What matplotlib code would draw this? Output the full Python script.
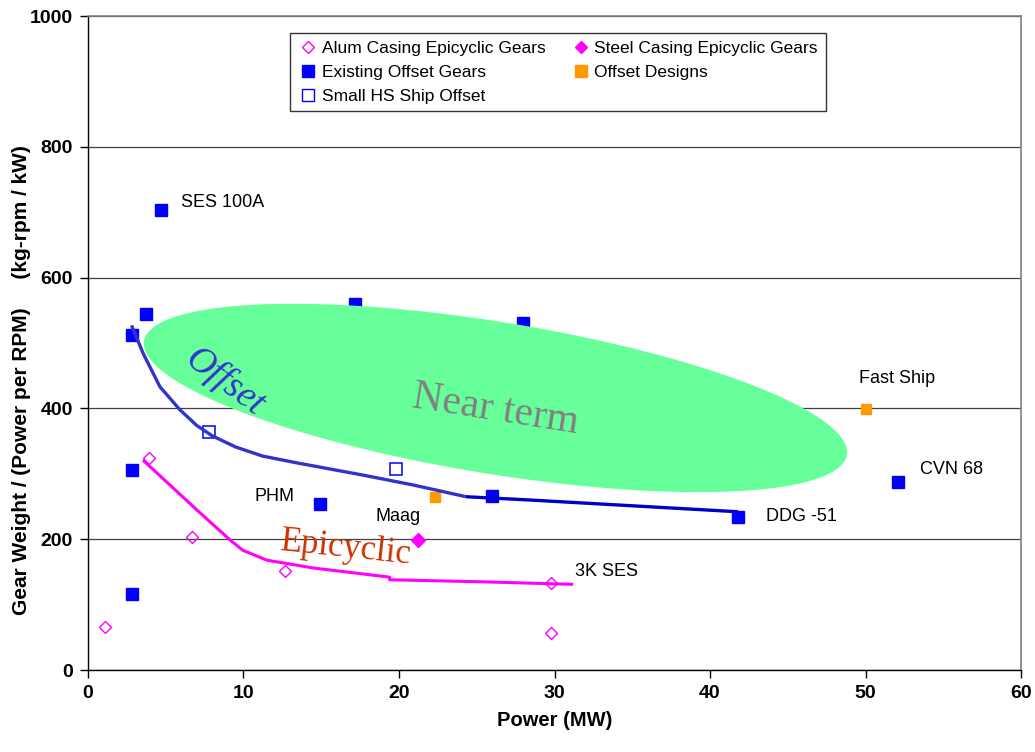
import numpy as np
import matplotlib
matplotlib.use("Agg")
import matplotlib.pyplot as plt
from matplotlib.lines import Line2D

plt.rcParams['font.family'] = ['Liberation Sans', 'DejaVu Sans']

# Existing Offset Gears (filled blue squares)
exist_x = [4.7, 3.7, 2.8, 17.2, 28.0, 2.8, 14.9, 26.0, 41.8, 52.1, 2.8]
exist_y = [704, 544, 512, 559, 530, 306, 254, 266, 234, 287, 116]

# Small HS Ship Offset (open blue squares)
small_x = [7.8, 16.7, 19.8]
small_y = [364, 358, 307]

# Offset Designs (orange squares)
design_x = [22.3, 50.0]
design_y = [265, 399]

# Alum Casing Epicyclic Gears (open diamonds)
alum_x = [3.9, 6.7, 12.7, 29.8, 29.8, 1.1]
alum_y = [324, 203, 151, 133, 57, 66]

# Steel Casing Epicyclic Gears
steel_x = [21.2]
steel_y = [199]

# trend curves drawn by hand on the original
offset_x = [2.8, 3.55, 4.63, 5.91, 6.99, 8.0, 9.5, 11.25, 13.6, 17.7, 20.9, 22.8, 24.3]
offset_y = [527, 484, 433, 398, 374, 358, 341, 327, 316, 298, 283, 273, 265]
offset2_x = [24.3, 28.4, 41.8]
offset2_y = [265, 260, 242]
epi_x = [3.53, 4.95, 6.99, 9.13, 9.96, 11.5, 14.5, 19.4, 19.4, 25.2, 31.2]
epi_y = [321, 290, 245, 199, 183, 168, 156, 142, 138, 135, 131]

# point labels
lbl_text = ["SES 100A", "PHM", "Maag", "Fast Ship", "CVN 68", "DDG -51", "3K SES"]
lbl_x = [6.0, 10.7, 18.5, 49.6, 53.5, 43.6, 31.3]
lbl_y = [715, 265, 235, 445, 307, 234, 150]

fig = plt.figure(figsize=(10.35, 7.52), dpi=100)
ax = fig.add_axes([0.085, 0.109, 0.9015, 0.8697])

ax.set_xlim(0, 60)
ax.set_ylim(0, 1000)
ax.set_xticks(range(0, 61, 10))
ax.set_yticks(range(0, 1001, 200))
ax.yaxis.grid(True, color='#404040', lw=0.9, zorder=0)
ax.set_axisbelow(True)
for s in ['top', 'right']:
    ax.spines[s].set_color('#808080')
    ax.spines[s].set_linewidth(1.2)
for s in ['left', 'bottom']:
    ax.spines[s].set_color('black')
    ax.spines[s].set_linewidth(1.0)
ax.tick_params(direction='out', length=6, width=1, labelsize=14, pad=5)
for t in ax.get_xticklabels() + ax.get_yticklabels():
    t.set_fontweight('bold')

ax.plot(exist_x, exist_y, 's', color='#0000FF', ms=8.5, mec='#0000FF', ls='none', zorder=2)
ax.plot(small_x, small_y, 's', mfc='white', mec='#0000FF', mew=1.1, ms=8, ls='none', zorder=2)
ax.plot(design_x, design_y, 's', color='#FF9900', ms=7, ls='none', zorder=2)
ax.plot(alum_x, alum_y, 'D', mfc='none', mec='#FF00FF', mew=1.0, ms=6.5, ls='none', zorder=2)
ax.plot(steel_x, steel_y, 'D', color='#FF00FF', ms=7, ls='none', zorder=2)

# "Near term" ellipse, built in pixel space then mapped to data units
sx = 0.9015 * 1035 / 60.0
sy = 0.8697 * 752 / 1000.0
t = np.linspace(0, 2 * np.pi, 300)
a, b, th = 356.0, 76.0, np.radians(-9.2)
dx = a * np.cos(t) * np.cos(th) - b * np.sin(t) * np.sin(th)
dy = a * np.cos(t) * np.sin(th) + b * np.sin(t) * np.cos(th)
ax.fill(26.2 + dx / sx, 416 + dy / sy, color='#66FF99', lw=0, zorder=3)

ax.plot(offset_x, offset_y, color='#3333CC', lw=2.4, zorder=4, solid_capstyle='butt')
ax.plot(offset2_x, offset2_y, color='#0000CC', lw=2.4, zorder=4, solid_capstyle='butt')
ax.plot(epi_x, epi_y, color='#FF00FF', lw=2.2, zorder=4, solid_capstyle='butt')

serif = ['Liberation Serif', 'DejaVu Serif']
ax.text(8.8, 440, "Offset", family=serif, style='italic', fontsize=27,
        color='#3333CC', rotation=-37, ha='center', va='center', zorder=5)
ax.text(26.2, 397, "Near term", family=serif, fontsize=30, color='#808080',
        rotation=-9, ha='center', va='center', zorder=5)
ax.text(16.6, 186, "Epicyclic", family=serif, fontsize=25, color='#CC3300',
        rotation=-6, ha='center', va='center', zorder=5)

for s, x, y in zip(lbl_text, lbl_x, lbl_y):
    ax.text(x, y, s, fontsize=13, ha='left', va='center', zorder=5)

ax.set_xlabel("Power (MW)", fontsize=14.5, fontweight='bold', labelpad=6)
ax.set_ylabel("Gear Weight / (Power per RPM)     (kg-rpm / kW)",
              fontsize=15, fontweight='bold')
ax.yaxis.set_label_coords(-0.061, 0.443)

handles = [
    Line2D([], [], marker='D', ls='none', mfc='none', mec='#FF00FF', ms=6),
    Line2D([], [], marker='s', ls='none', color='#0000FF', ms=8),
    Line2D([], [], marker='s', ls='none', mfc='white', mec='#0000FF', ms=8),
    Line2D([], [], marker='D', ls='none', color='#FF00FF', ms=6),
    Line2D([], [], marker='s', ls='none', color='#FF9900', ms=8),
]
labels = ["Alum Casing Epicyclic Gears", "Existing Offset Gears", "Small HS Ship Offset",
          "Steel Casing Epicyclic Gears", "Offset Designs"]
leg = ax.legend(handles, labels, ncol=2, loc='upper left',
                bbox_to_anchor=(0.2165, 0.974),
                fontsize=12.5, frameon=True, fancybox=False, edgecolor='black',
                handlelength=1.2, handletextpad=0.17, borderpad=0.45,
                labelspacing=0.5, columnspacing=1.45, borderaxespad=0)
leg.get_frame().set_linewidth(1.0)
leg.set_zorder(6)

fig.savefig("out.png", dpi=100)
